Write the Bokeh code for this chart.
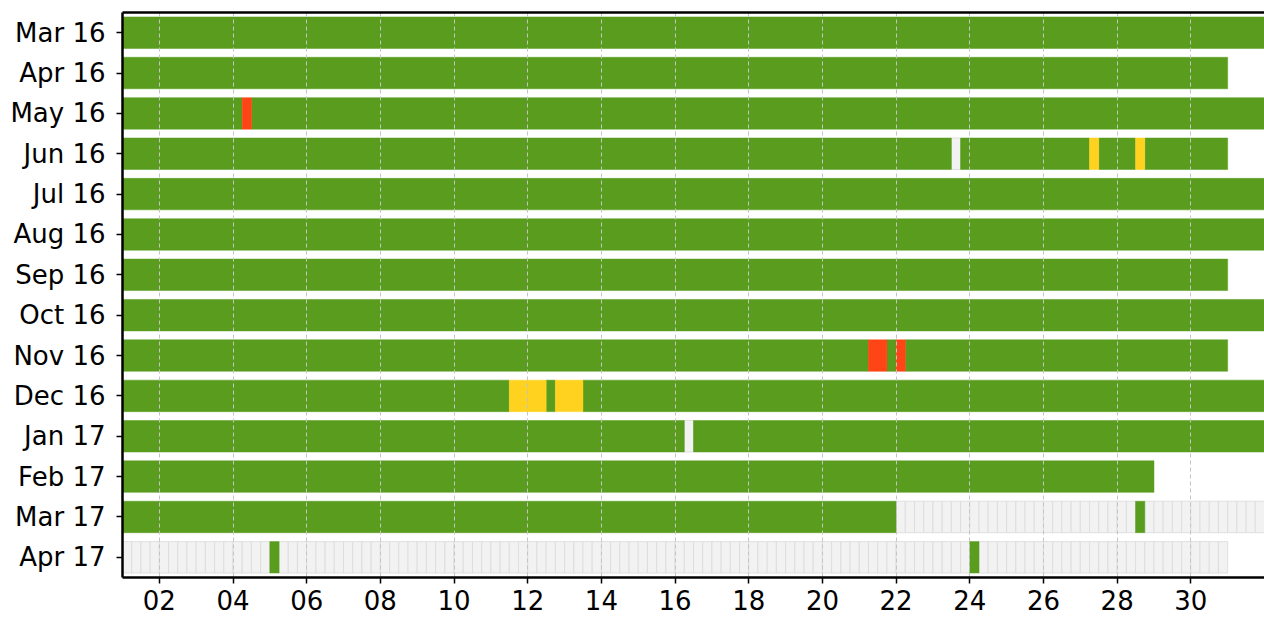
from bokeh.plotting import figure
from bokeh.models import Range1d, FixedTicker, LinearAxis, ColumnDataSource
from bokeh.embed import file_html
from bokeh.resources import INLINE

# ---------------- data ----------------
months = ["Mar 16", "Apr 16", "May 16", "Jun 16", "Jul 16", "Aug 16", "Sep 16",
          "Oct 16", "Nov 16", "Dec 16", "Jan 17", "Feb 17", "Mar 17", "Apr 17"]
days_in_month = [31, 30, 31, 30, 31, 31, 30, 31, 30, 31, 31, 28, 31, 30]

# non-green periods: (month, start day, end day) in day units (quarter-day resolution)
red_periods = [("May 16", 4.25, 4.5), ("Nov 16", 21.25, 21.75), ("Nov 16", 22.0, 22.25)]
yellow_periods = [("Jun 16", 27.25, 27.5), ("Jun 16", 28.5, 28.75),
                  ("Dec 16", 11.5, 12.5), ("Dec 16", 12.75, 13.5)]
nodata_periods = [("Jun 16", 23.5, 23.75), ("Jan 17", 16.25, 16.5),
                  ("Mar 17", 22.0, 28.5), ("Mar 17", 28.75, 32.0),
                  ("Apr 17", 1.0, 5.0), ("Apr 17", 5.25, 24.0), ("Apr 17", 24.25, 31.0)]

x_ticks = list(range(2, 31, 2))
x_tick_labels = ["%02d" % d for d in x_ticks]

GREEN = "#599c1e"
RED = "#ff4515"
YELLOW = "#ffd21f"
GREY = "#f2f2f2"

# ---------------- build glyph tables ----------------
row = {m: i for i, m in enumerate(months)}

def to_src(periods):
    return ColumnDataSource(dict(
        left=[p[1] for p in periods], right=[p[2] for p in periods],
        y=[row[p[0]] for p in periods]))

# green = month span minus all other periods
green = []
for m, nd in zip(months, days_in_month):
    cuts = sorted([(s, e) for (mm, s, e) in red_periods + yellow_periods + nodata_periods if mm == m])
    pos = 1.0
    for s, e in cuts:
        if s > pos:
            green.append((m, pos, s))
        pos = max(pos, e)
    if pos < nd + 1:
        green.append((m, pos, nd + 1.0))

# no-data periods split into quarter-day cells
grey_cells = []
for m, s, e in nodata_periods:
    k = s
    while k < e - 1e-9:
        grey_cells.append((m, k, k + 0.25))
        k += 0.25

H = 0.78

p = figure(width=1264, height=617, output_backend="svg", toolbar_location=None,
           x_range=Range1d(1, 32), y_range=Range1d(13.5, -0.5),
           min_border_left=122, min_border_right=0, min_border_top=12, min_border_bottom=40)
p.outline_line_color = None
p.background_fill_color = "white"

rg = p.hbar(y="y", left="left", right="right", height=H, source=to_src(grey_cells),
            fill_color=GREY, line_color="#dadada", line_width=0.8)
rg.level = "underlay"

for periods, col in ((green, GREEN), (red_periods, RED), (yellow_periods, YELLOW)):
    p.hbar(y="y", left="left", right="right", height=H, source=to_src(periods),
           fill_color=col, line_color=col, line_width=0.5)

# axes
FONT = "DejaVu Sans"
p.xaxis.ticker = FixedTicker(ticks=x_ticks)
p.xaxis.major_label_overrides = {t: l for t, l in zip(x_ticks, x_tick_labels)}
p.yaxis.ticker = FixedTicker(ticks=list(range(len(months))))
p.yaxis.major_label_overrides = {i: m for i, m in enumerate(months)}
for ax in (p.xaxis[0], p.yaxis[0]):
    ax.axis_line_width = 2.5
    ax.axis_line_color = "black"
    ax.major_tick_line_width = 1.5
    ax.major_tick_out = 6
    ax.major_tick_in = 0
    ax.minor_tick_line_color = None
    ax.major_label_text_font = FONT
    ax.major_label_text_font_size = "26px"
    ax.major_label_text_color = "black"
p.xaxis.major_label_standoff = 6
p.yaxis.major_label_standoff = 11

top = LinearAxis(ticker=FixedTicker(ticks=[]), axis_line_width=2.5, axis_line_color="black",
                 major_tick_line_color=None, minor_tick_line_color=None)
p.add_layout(top, "above")

p.ygrid.grid_line_color = None
p.xgrid.ticker = FixedTicker(ticks=x_ticks)
p.xgrid.grid_line_color = "#c4c4c4"
p.xgrid.grid_line_dash = "4 3"
p.xgrid.grid_line_width = 1
p.xgrid.level = "glyph"

open("out.html", "w").write(file_html(p, INLINE))
